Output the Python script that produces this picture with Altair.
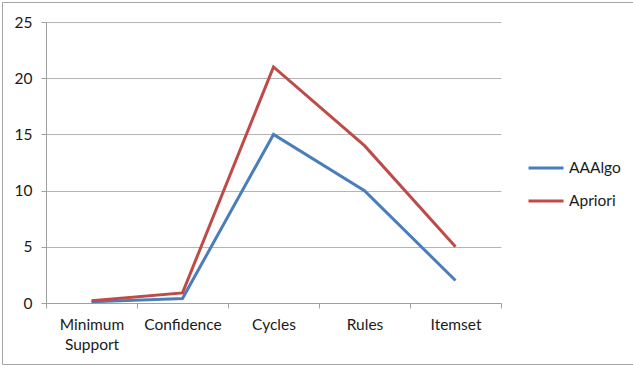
import altair as alt
import pandas as pd

categories = ["Minimum Support", "Confidence", "Cycles", "Rules", "Itemset"]
aaalgo = [0.1, 0.4, 15, 10, 2]
apriori = [0.2, 0.9, 21, 14, 5]
series_names = ["AAAlgo", "Apriori"]
series_colors = ["#4A7EBB", "#BE4B48"]

rows = []
for name, vals in zip(series_names, [aaalgo, apriori]):
    for cat, v in zip(categories, vals):
        rows.append({"category": cat, "series": name, "value": v})
df = pd.DataFrame(rows)

FONT = "Lato"
FS = 15.5
W, H = 455, 281

lines = alt.Chart(df).mark_line(strokeWidth=3, clip=False).encode(
    x=alt.X(
        "category:N",
        sort=categories,
        scale=alt.Scale(paddingInner=0, paddingOuter=0),
        axis=alt.Axis(
            title=None,
            labelAngle=0,
            tickBand="extent",
            labelExpr="split(datum.label, ' ')",
            labelLineHeight=20,
            labelPadding=9,
            tickSize=5,
            grid=False,
        ),
    ),
    y=alt.Y(
        "value:Q",
        scale=alt.Scale(domain=[0, 25]),
        axis=alt.Axis(
            title=None,
            values=[0, 5, 10, 15, 20, 25],
            tickSize=5,
            labelPadding=9,
            grid=True,
        ),
    ),
    color=alt.Color(
        "series:N",
        scale=alt.Scale(domain=series_names, range=series_colors),
        legend=alt.Legend(
            title=None,
            orient="none",
            legendX=481,
            legendY=127,
            symbolType="stroke",
            symbolSize=1225,
            symbolStrokeWidth=3,
            rowPadding=5,
            labelOffset=4,
        ),
    ),
)

# outer frame around the whole chart
frame = alt.Chart(pd.DataFrame({"k": [0]})).mark_rect(
    fill=None, stroke="#A6A6A6", strokeWidth=1, clip=False
).encode(
    x=alt.value(-43.5), x2=alt.value(W + 140), y=alt.value(-19.5), y2=alt.value(H + 61.5)
)

chart = alt.layer(frame, lines).properties(
    width=W,
    height=H,
    autosize=alt.AutoSizeParams(type="none"),
    padding={"left": 46, "top": 22, "right": 132, "bottom": 62},
    background="white",
).configure_view(stroke=None).configure_axis(
    domainColor="#A0A0A0",
    tickColor="#A0A0A0",
    gridColor="#B4B4B4",
    labelFont=FONT,
    labelFontSize=FS,
    labelColor="#1A1A1A",
).configure_legend(
    labelFont=FONT,
    labelFontSize=FS,
    labelColor="#1A1A1A",
)

chart.save("out.html", embed_options={"renderer": "svg", "actions": False})
